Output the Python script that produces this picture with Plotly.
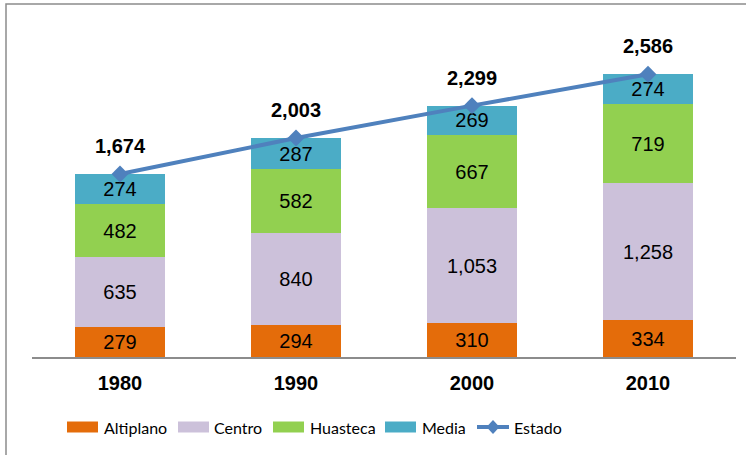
import plotly.graph_objects as go

years = ["1980", "1990", "2000", "2010"]
altiplano = [279, 294, 310, 334]
centro = [635, 840, 1053, 1258]
huasteca = [482, 582, 667, 719]
media = [274, 287, 269, 274]
estado = [1674, 2003, 2299, 2586]

series_names = ["Altiplano", "Centro", "Huasteca", "Media"]
series_values = [altiplano, centro, huasteca, media]
series_colors = ["#E46C0A", "#CCC1DA", "#92D050", "#4BACC6"]
line_color = "#4F81BD"

W, H = 746, 455
ML, MR, MT, MB = 32, 10, 29, 98
PW = W - ML - MR
PH = H - MT - MB


def px(x):
    return (x - ML) / PW


def py(y):
    return (H - MB - y) / PH


fig = go.Figure()
for name, vals, col in zip(series_names, series_values, series_colors):
    fig.add_trace(go.Bar(
        x=years, y=vals, name=name, marker=dict(color=col, line=dict(width=0)),
        texttemplate="%{y:,}", textposition="inside", insidetextanchor="middle",
        textfont=dict(family="Liberation Sans, Arial", size=20, color="black"),
        constraintext="none", showlegend=False,
    ))

fig.add_trace(go.Scatter(
    x=years, y=estado, name="Estado", mode="lines+markers",
    line=dict(color=line_color, width=4),
    marker=dict(symbol="diamond", size=13, color=line_color),
    showlegend=False,
))

annotations = []
for i, tot in enumerate(estado):
    annotations.append(dict(
        x=i, y=tot, xref="x", yref="y", text="<b>{:,}</b>".format(tot),
        showarrow=False, yshift=28,
        font=dict(family="Liberation Sans, Arial", size=20, color="black"),
    ))

shapes = [
    dict(type="rect", xref="paper", yref="paper", x0=px(6), x1=px(760), y0=py(4), y1=py(470),
         line=dict(color="#8C8C8C", width=1.5), fillcolor="rgba(0,0,0,0)", layer="below"),
]

# custom legend
legend_items = [
    ("Altiplano", series_colors[0], 67, 102),
    ("Centro", series_colors[1], 178, 212),
    ("Huasteca", series_colors[2], 273, 308),
    ("Media", series_colors[3], 385, 420),
]
ly = 427
lfont = dict(family="Lato, Liberation Sans", size=16, color="black")
for name, col, sx, tx in legend_items:
    shapes.append(dict(type="rect", xref="paper", yref="paper", x0=px(sx), x1=px(sx + 31),
                       y0=py(ly - 5.5), y1=py(ly + 5.5), fillcolor=col, line=dict(width=0)))
    annotations.append(dict(x=px(tx), y=py(ly), xref="paper", yref="paper", text=name,
                            xanchor="left", yanchor="middle", showarrow=False, font=lfont))
shapes.append(dict(type="line", xref="paper", yref="paper", x0=px(477), x1=px(509),
                   y0=py(ly), y1=py(ly), line=dict(color=line_color, width=4)))
shapes.append(dict(type="path", xref="paper", yref="paper",
                   path="M {a},{c} L {b},{d} L {e},{c} L {b},{f} Z".format(
                       a=px(486.5), b=px(493), e=px(499.5), c=py(ly), d=py(ly - 7), f=py(ly + 7)),
                   fillcolor=line_color, line=dict(width=0)))
annotations.append(dict(x=px(512), y=py(ly), xref="paper", yref="paper", text="Estado",
                        xanchor="left", yanchor="middle", showarrow=False, font=lfont))

fig.update_layout(
    width=W, height=H, barmode="stack", bargap=0.49,
    margin=dict(l=ML, r=MR, t=MT, b=MB),
    plot_bgcolor="white", paper_bgcolor="white",
    xaxis=dict(type="category", showline=True, linecolor="#8C8C8C", linewidth=1.5,
               ticks="outside", ticklen=7, tickcolor="rgba(0,0,0,0)", showgrid=False,
               range=[-0.5, 3.5],
               tickfont=dict(family="Liberation Sans, Arial", size=20, color="black"),
               tickvals=years, ticktext=["<b>%s</b>" % y for y in years]),
    yaxis=dict(range=[0, 3000], visible=False, showgrid=False),
    shapes=shapes, annotations=annotations, showlegend=False,
)

fig.write_html("out.html", config={"displayModeBar": False},
               post_script="document.body.style.margin='0';document.body.style.overflow='hidden';")
